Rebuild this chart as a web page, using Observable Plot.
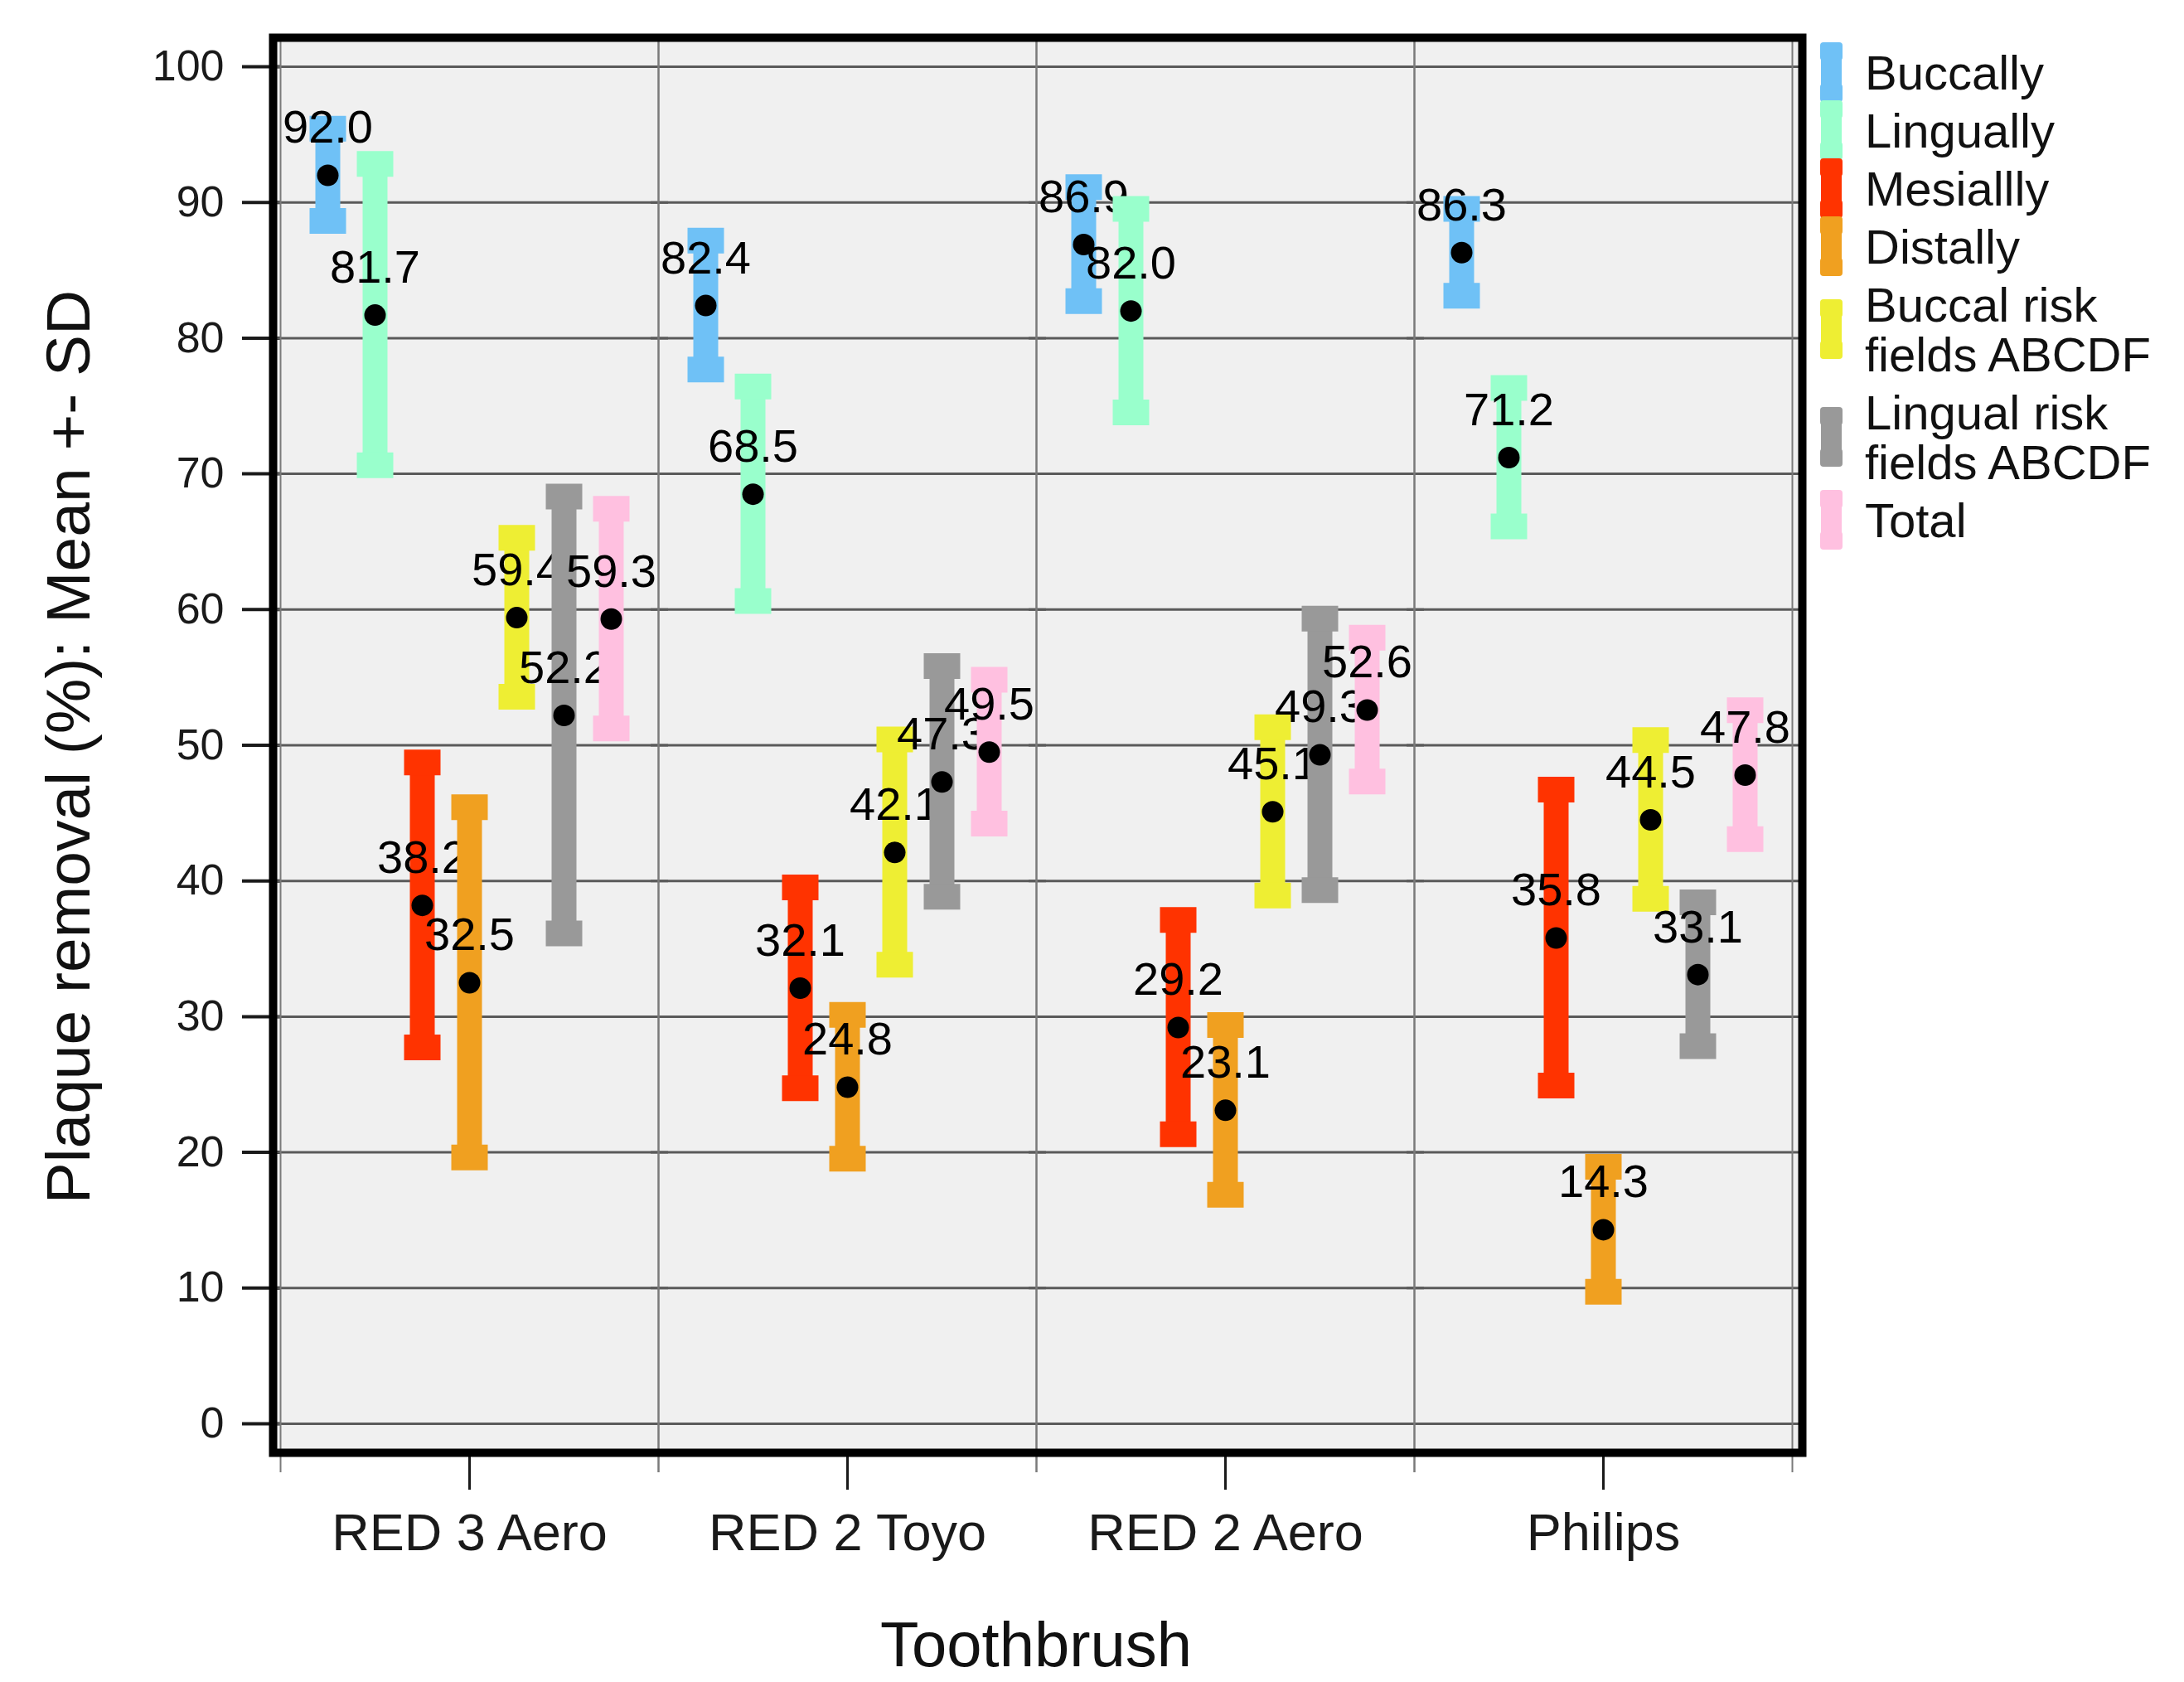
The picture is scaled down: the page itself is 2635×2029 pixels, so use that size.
<!DOCTYPE html>
<html>
<head>
<meta charset="utf-8">
<script src="https://cdn.jsdelivr.net/npm/d3@7"></script>
<script src="https://cdn.jsdelivr.net/npm/@observablehq/plot@0.6"></script>
<style>
  html, body { margin: 0; padding: 0; background: #ffffff; overflow: hidden; }
  #wrap { position: relative; width: 2635px; height: 2029px; }
  #wrap > svg { position: absolute; left: 0; top: 0; }
</style>
</head>
<body>
<div id="wrap"></div>
<script>
// ---------- data ----------
const brushes = ["RED 3 Aero", "RED 2 Toyo", "RED 2 Aero", "Philips"];
const series = ["Buccally", "Lingually", "Mesiallly", "Distally",
                "Buccal risk fields ABCDF", "Lingual risk fields ABCDF", "Total"];
const seriesColors = ["#6fc1f6", "#99ffcc", "#ff3300", "#f0a020", "#eeee33", "#999999", "#ffc0e0"];
const yTicks = [0, 10, 20, 30, 40, 50, 60, 70, 80, 90, 100];

// means and SDs per series, in the order of `brushes`
const meanBuccally    = [92.0, 82.4, 86.9, 86.3];
const sdBuccally      = [3.4, 4.75, 4.2, 3.2];
const meanLingually   = [81.7, 68.5, 82.0, 71.2];
const sdLingually     = [11.1, 7.9, 7.5, 5.1];
const meanMesially    = [38.2, 32.1, 29.2, 35.8];
const sdMesially      = [10.5, 7.4, 7.9, 10.9];
const meanDistally    = [32.5, 24.8, 23.1, 14.3];
const sdDistally      = [12.9, 5.3, 6.25, 4.6];
const meanBuccalRisk  = [59.4, 42.1, 45.1, 44.5];
const sdBuccalRisk    = [5.85, 8.3, 6.2, 5.85];
const meanLingualRisk = [52.2, 47.3, 49.3, 33.1];
const sdLingualRisk   = [16.1, 8.5, 10.0, 5.3];
const meanTotal       = [59.3, 49.5, 52.6, 47.8];
const sdTotal         = [8.1, 5.3, 5.3, 4.75];

const meansBySeries = [meanBuccally, meanLingually, meanMesially, meanDistally, meanBuccalRisk, meanLingualRisk, meanTotal];
const sdsBySeries   = [sdBuccally, sdLingually, sdMesially, sdDistally, sdBuccalRisk, sdLingualRisk, sdTotal];

const rows = [];
brushes.forEach((b, bi) => {
  series.forEach((s, si) => {
    rows.push({brush: b, series: s, xi: si, mean: meansBySeries[si][bi], sd: sdsBySeries[si][bi]});
  });
});

// ---------- style ----------
const FONT = "'Liberation Sans', Arial, Helvetica, sans-serif";
const W = 2635, H = 2029;

const marks = [
  Plot.frame({fill: "#f0f0f0", stroke: "none", facet: "super", insetLeft: -9, insetRight: -12}),
  Plot.axisY(yTicks, {tickSize: 46, tickPadding: 22, fontSize: 52, label: null, strokeWidth: 4}),
  Plot.axisFx({anchor: "bottom", tickSize: 45, tickPadding: 28, fontSize: 63, label: null, strokeWidth: 3}),
  Plot.ruleY(yTicks, {stroke: "#5a5a5a", strokeWidth: 3, insetLeft: -9, insetRight: -12}),
  Plot.ruleX([-1, series.length], {stroke: "#7a7a7a", strokeWidth: 2, insetBottom: -24})
];

series.forEach((s) => {
  const d = rows.filter(r => r.series === s);
  marks.push(
    Plot.ruleX(d, {fx: "brush", x: "xi", y1: r => r.mean - r.sd, y2: r => r.mean + r.sd,
                   stroke: "series", strokeWidth: 30}),
    Plot.ruleX(d, {fx: "brush", x: "xi", y1: r => r.mean + r.sd, y2: r => r.mean + r.sd,
                   insetTop: -15.5, insetBottom: -15.5, stroke: "series", strokeWidth: 44}),
    Plot.ruleX(d, {fx: "brush", x: "xi", y1: r => r.mean - r.sd, y2: r => r.mean - r.sd,
                   insetTop: -15.5, insetBottom: -15.5, stroke: "series", strokeWidth: 44}),
    Plot.dot(d, {fx: "brush", x: "xi", y: "mean", r: 13, fill: "black"}),
    Plot.text(d, {fx: "brush", x: "xi", y: "mean", text: r => r.mean.toFixed(1),
                  dy: -57, fontSize: 56, fill: "black", lineAnchor: "middle"})
  );
});

marks.push(Plot.frame({stroke: "black", strokeWidth: 10, facet: "super", insetLeft: -9, insetRight: -12}));

const chart = Plot.plot({
  width: W,
  height: H,
  marginLeft: 327,
  marginRight: 460,
  marginTop: 45,
  marginBottom: 277,
  fx: {domain: brushes, padding: 0, insetLeft: 9, insetRight: 12, label: null},
  x: {domain: [-1, series.length], axis: null},
  y: {domain: [0, 100], insetTop: 35, insetBottom: 35, label: null},
  color: {domain: series, range: seriesColors},
  style: {fontFamily: FONT, color: "#1a1a1a", background: "transparent", fontSize: "52px"},
  marks
});

const wrap = document.getElementById("wrap");
wrap.appendChild(chart);

// ---------- overlay: axis titles and legend ----------
const ov = d3.select(wrap).append("svg")
  .attr("width", W).attr("height", H)
  .style("font-family", FONT)
  .style("pointer-events", "none");

ov.append("text")
  .attr("x", 1250).attr("y", 2010)
  .attr("text-anchor", "middle")
  .attr("font-size", 76)
  .attr("fill", "#111")
  .text("Toothbrush");

ov.append("text")
  .attr("transform", "translate(108,901) rotate(-90)")
  .attr("text-anchor", "middle")
  .attr("font-size", 75)
  .attr("fill", "#111")
  .text("Plaque removal (%): Mean +- SD");

const legendLines = series.map(s => s.replace(" fields", "\nfields").split("\n"));
let cy = 87;
const lg = ov.append("g");
legendLines.forEach((lines, i) => {
  const top = cy, bottom = cy + (lines.length - 1) * 60;
  const mid = (top + bottom) / 2;
  const col = seriesColors[i];
  const sh = 72;
  lg.append("rect").attr("x", 2197).attr("y", mid - sh / 2 + 4).attr("width", 25).attr("height", sh - 8).attr("fill", col);
  lg.append("rect").attr("x", 2196).attr("y", mid - sh / 2).attr("width", 27).attr("height", 22).attr("rx", 4).attr("fill", col);
  lg.append("rect").attr("x", 2196).attr("y", mid + sh / 2 - 22).attr("width", 27).attr("height", 22).attr("rx", 4).attr("fill", col);
  lines.forEach((t, k) => {
    lg.append("text")
      .attr("x", 2250).attr("y", top + k * 60)
      .attr("dominant-baseline", "central")
      .attr("font-size", 58)
      .attr("fill", "#111")
      .text(t);
  });
  cy = bottom + 70;
});
</script>
</body>
</html>
